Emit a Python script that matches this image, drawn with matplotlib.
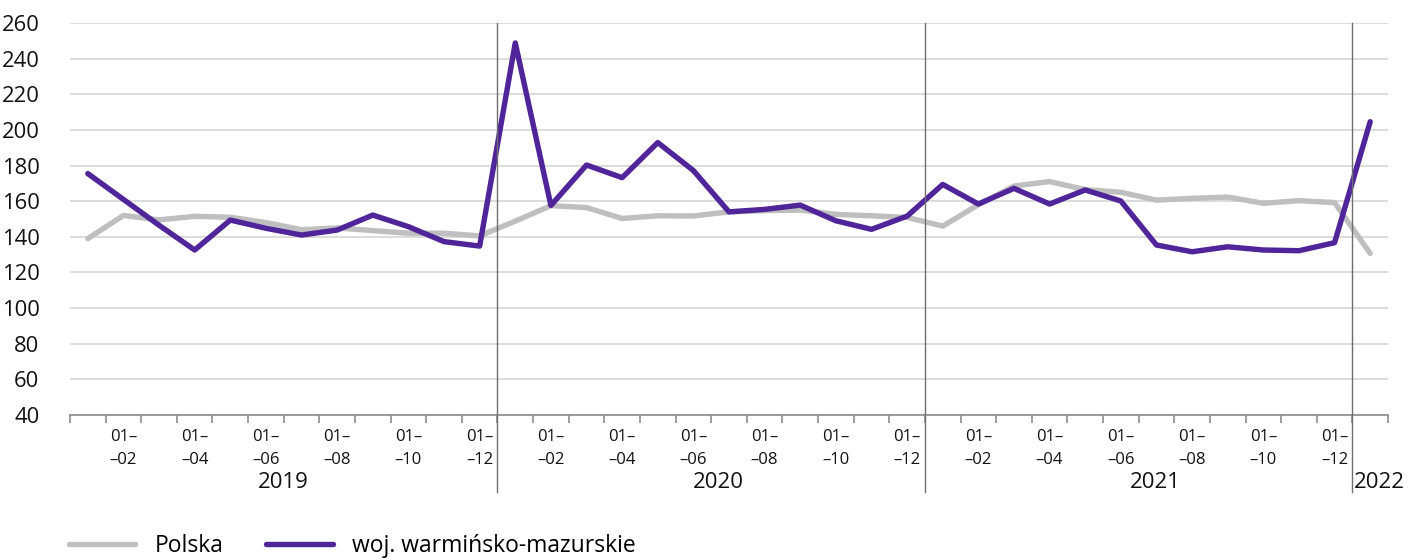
import numpy as np
import matplotlib
matplotlib.use("Agg")
import matplotlib.pyplot as plt
import matplotlib.transforms as mtransforms

plt.rcParams['font.family'] = ['Open Sans', 'DejaVu Sans']

# --------------------------------------------
# Data (monthly, 2019-01 .. 2022-01)
# --------------------------------------------

years = ["2019", "2020", "2021", "2022"]
months_per_year = [12, 12, 12, 1]
month_labels = ["01–01", "01–02", "01–03", "01–04", "01–05", "01–06",
                "01–07", "01–08", "01–09", "01–10", "01–11", "01–12"]

polska = [139, 152, 149.5, 151.5, 151, 148, 144, 145, 143.5, 142, 142, 140.5,
          148.8, 157.5, 156.4, 150.3, 151.8, 151.7, 154, 154.7, 155, 152.6, 151.8, 150.9,
          146, 158, 168.5, 171, 166.5, 165, 160.6, 161.6, 162.3, 158.8, 160.3, 159.2,
          130.7]

warminsko = [175.5, 161, 146.5, 132.6, 149.4, 144.8, 141, 143.8, 152.2, 145.7, 137.3, 134.8,
             248.8, 157.6, 180.3, 173.2, 192.9, 177.2, 154, 155.4, 157.8, 149, 144.2, 151.6,
             169.4, 158.4, 167.2, 158.4, 166.3, 160.1, 135.4, 131.6, 134.4, 132.6, 132.2, 136.7,
             204.6]

series_names = ["Polska", "woj. warmińsko-mazurskie"]

# --------------------------------------------
# Figure
# --------------------------------------------

W, H = 1408, 560
fig = plt.figure(figsize=(W / 100, H / 100), dpi=100)
ax = fig.add_axes([70 / W, 1 - 415 / H, 1318 / W, 392 / H])

n = len(polska)
x = np.arange(n)

grey = "#bfbfbf"
purple = "#51259a"

ax.plot(x, polska, color=grey, lw=3.9, solid_capstyle="round",
        solid_joinstyle="round", label=series_names[0], zorder=3)
ax.plot(x, warminsko, color=purple, lw=3.9, solid_capstyle="round",
        solid_joinstyle="round", label=series_names[1], zorder=4)

ax.set_xlim(-0.5, n - 0.5)
ax.set_ylim(40, 260)
ax.set_yticks(np.arange(40, 261, 20))
ax.yaxis.grid(True, color="#d9d9d9", lw=1.3)
ax.set_axisbelow(True)
ax.tick_params(axis="y", length=0, pad=22, labelsize=15.8, colors="#111111")

for s in ["left", "right", "top"]:
    ax.spines[s].set_visible(False)
ax.spines["bottom"].set_color("#8c8c8c")
ax.spines["bottom"].set_linewidth(1.2)

# category boundary ticks
ax.set_xticks(np.arange(n + 1) - 0.5)
ax.set_xticklabels([])
ax.tick_params(axis="x", length=6, width=1.2, color="#8c8c8c", direction="out")

trans = mtransforms.blended_transform_factory(ax.transData, ax.transAxes)

def ay(py):
    return (415 - py) / 392

# year label nudges, like in the original export
year_shift = [0.0, 0.2, 0.48, 0.0]

# month labels (every other) and year labels
start = 0
for year, cnt, shift in zip(years, months_per_year, year_shift):
    for m in range(cnt):
        if m % 2 == 1:
            first, second = month_labels[m].split("–")
            ax.text(start + m, ay(437), first + "–", transform=trans,
                    ha="center", va="center", fontsize=12, color="#111111")
            ax.text(start + m, ay(460), "–" + second, transform=trans,
                    ha="center", va="center", fontsize=12, color="#111111")
    if cnt > 1:
        ax.text(start + (cnt - 1) / 2 + shift, ay(483), year, transform=trans,
                ha="center", va="center", fontsize=15.9, color="#111111")
    else:
        ax.text(start - 0.45, ay(483), year, transform=trans,
                ha="left", va="center", fontsize=15.9, color="#111111")
    if start > 0:
        ax.plot([start - 0.5, start - 0.5], [1, ay(492)], transform=trans,
                color="#6e6e6e", lw=1.0, clip_on=False, zorder=5)
    start += cnt

fig.legend(loc="center left", bbox_to_anchor=(69 / W, 1 - 546 / H),
           ncol=2, frameon=False, fontsize=16.5, borderpad=0, borderaxespad=0,
           handlelength=2.9, handletextpad=0.83, columnspacing=1.87)

fig.savefig("out.png", dpi=100)
